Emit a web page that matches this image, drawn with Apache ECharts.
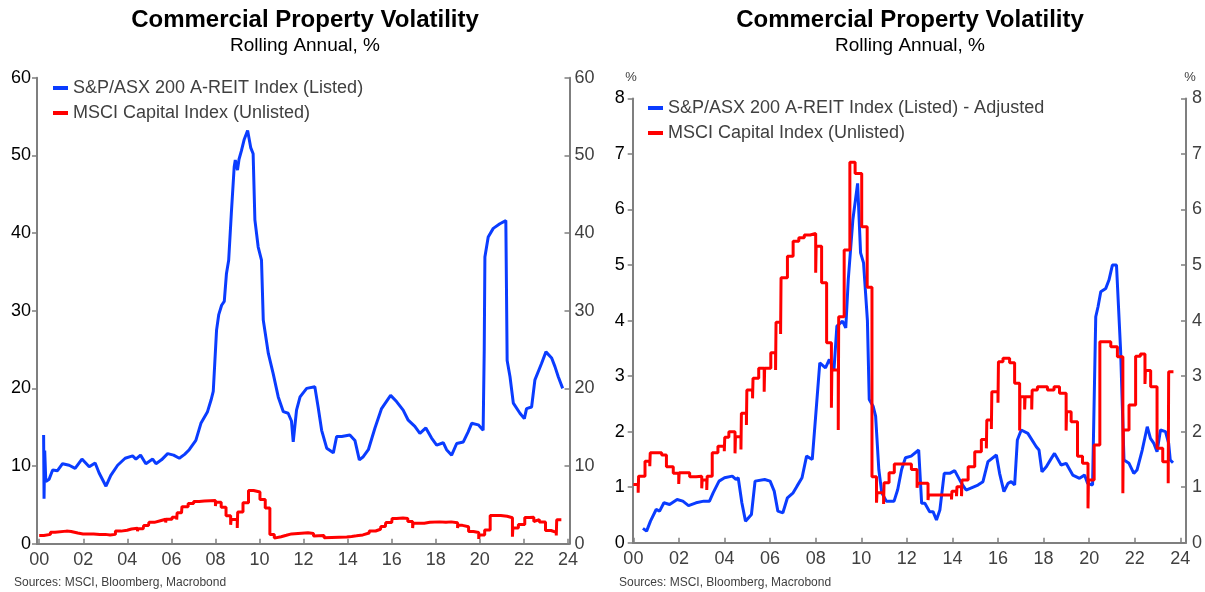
<!DOCTYPE html>
<html><head><meta charset="utf-8">
<script src="https://cdn.jsdelivr.net/npm/echarts@6/dist/echarts.min.js"></script>
<style>html,body{margin:0;padding:0;background:#fff}#c{width:1205px;height:592px}</style>
</head><body><div id="c"></div>
<script>
const chartTitle = 'Commercial Property Volatility';
const chartSubtitle = 'Rolling Annual, %';
const sourceNote = 'Sources: MSCI, Bloomberg, Macrobond';
const listedName = 'S&P/ASX 200 A-REIT Index (Listed)';
const listedAdjName = 'S&P/ASX 200 A-REIT Index (Listed) - Adjusted';
const unlistedName = 'MSCI Capital Index (Unlisted)';
const yearTicks = [2000,2002,2004,2006,2008,2010,2012,2014,2016,2018,2020,2022,2024];

// Left chart: listed volatility, % (rolling annual)
const listedVol = [
[2000.20,14.0],[2000.22,5.8],[2000.25,12.0],[2000.30,8.0],[2000.45,8.3],[2000.61,9.5],[2000.83,9.4],[2001.06,10.3],[2001.36,10.1],[2001.63,9.7],[2001.94,10.9],[2002.27,9.9],[2002.54,10.4],[2002.72,9.1],[2003.03,7.4],[2003.25,8.8],[2003.56,10.1],[2003.90,11.0],[2004.24,11.3],[2004.39,10.9],[2004.60,11.4],[2004.84,10.3],[2005.15,10.9],[2005.30,10.3],[2005.55,10.8],[2005.83,11.6],[2006.10,11.4],[2006.36,11.0],[2006.60,11.5],[2006.81,12.1],[2007.11,13.3],[2007.34,15.5],[2007.64,17.0],[2007.80,18.5],[2007.90,19.6],[2007.97,23.3],[2008.05,27.5],[2008.15,29.5],[2008.28,30.7],[2008.40,31.2],[2008.50,34.8],[2008.60,36.5],[2008.72,42.5],[2008.85,48.5],[2008.90,49.4],[2009.00,48.1],[2009.07,49.5],[2009.18,50.6],[2009.30,52.0],[2009.46,53.2],[2009.60,51.0],[2009.71,50.2],[2009.79,41.7],[2009.94,38.2],[2010.09,36.5],[2010.17,28.8],[2010.40,24.5],[2010.62,21.9],[2010.85,18.9],[2011.08,17.0],[2011.30,16.8],[2011.45,15.8],[2011.53,13.1],[2011.68,17.2],[2011.84,18.9],[2012.14,20.0],[2012.51,20.2],[2012.66,17.6],[2012.82,14.6],[2013.05,12.3],[2013.35,11.7],[2013.50,13.8],[2013.73,13.8],[2014.10,14.0],[2014.33,13.3],[2014.53,10.8],[2014.71,11.2],[2014.94,12.1],[2015.24,14.9],[2015.54,17.4],[2015.95,19.1],[2016.22,18.3],[2016.52,17.2],[2016.75,15.9],[2017.05,15.1],[2017.28,14.2],[2017.55,14.9],[2017.81,13.6],[2018.04,12.7],[2018.34,13.0],[2018.49,12.1],[2018.72,11.4],[2018.95,12.9],[2019.25,13.1],[2019.47,14.4],[2019.63,15.5],[2019.93,15.3],[2020.15,14.6],[2020.20,25.0],[2020.23,36.9],[2020.38,39.5],[2020.61,40.6],[2020.91,41.2],[2021.18,41.6],[2021.24,23.6],[2021.37,21.5],[2021.52,18.1],[2021.82,16.8],[2022.02,16.1],[2022.12,17.4],[2022.35,17.6],[2022.50,21.1],[2022.80,23.2],[2023.00,24.7],[2023.26,23.9],[2023.41,22.8],[2023.56,21.5],[2023.76,20.0]
];

// Right chart: listed volatility adjusted, %
const listedAdjVol = [
[2000.42,0.26],[2000.58,0.21],[2000.75,0.39],[2001.00,0.60],[2001.15,0.57],[2001.34,0.72],[2001.59,0.69],[2001.92,0.78],[2002.17,0.75],[2002.42,0.67],[2002.75,0.72],[2003.09,0.75],[2003.34,0.75],[2003.50,0.90],[2003.76,1.11],[2004.00,1.17],[2004.34,1.20],[2004.50,1.14],[2004.60,1.17],[2004.76,0.72],[2004.92,0.39],[2005.18,0.51],[2005.34,1.11],[2005.76,1.14],[2006.00,1.11],[2006.18,0.93],[2006.34,0.57],[2006.56,0.54],[2006.76,0.81],[2007.01,0.90],[2007.18,1.02],[2007.40,1.17],[2007.60,1.56],[2007.85,1.50],[2008.01,2.34],[2008.18,3.24],[2008.43,3.15],[2008.60,3.30],[2008.80,3.10],[2008.93,3.90],[2009.18,3.99],[2009.32,3.87],[2009.43,4.74],[2009.63,5.81],[2009.84,6.47],[2009.97,5.22],[2010.10,5.04],[2010.27,4.00],[2010.35,2.58],[2010.52,2.46],[2010.63,2.28],[2010.77,1.32],[2010.90,0.90],[2011.10,0.75],[2011.44,0.75],[2011.60,0.96],[2011.77,1.32],[2011.94,1.53],[2012.19,1.56],[2012.52,1.67],[2012.65,0.71],[2012.79,0.71],[2013.00,0.56],[2013.15,0.56],[2013.30,0.41],[2013.45,0.59],[2013.64,1.25],[2013.88,1.25],[2014.10,1.30],[2014.40,1.07],[2014.60,0.95],[2015.12,1.04],[2015.34,1.10],[2015.56,1.46],[2015.93,1.58],[2016.07,1.25],[2016.26,0.92],[2016.44,1.07],[2016.58,1.10],[2016.73,1.04],[2016.85,1.85],[2017.02,2.03],[2017.31,1.97],[2017.68,1.73],[2017.80,1.67],[2017.93,1.28],[2018.12,1.37],[2018.34,1.52],[2018.48,1.61],[2018.77,1.40],[2018.99,1.43],[2019.28,1.22],[2019.58,1.16],[2019.80,1.22],[2019.93,1.07],[2020.15,1.04],[2020.29,4.07],[2020.39,4.25],[2020.51,4.52],[2020.73,4.58],[2020.87,4.73],[2021.02,5.00],[2021.20,5.00],[2021.38,3.47],[2021.53,1.49],[2021.75,1.43],[2021.96,1.25],[2022.10,1.31],[2022.33,1.67],[2022.55,2.09],[2022.69,1.88],[2022.84,1.79],[2022.98,1.64],[2023.13,2.03],[2023.35,2.00],[2023.49,1.79],[2023.56,1.49],[2023.68,1.44]
];

// Both charts: unlisted (MSCI capital index) volatility, % – step series
const unlistedVol = [
[2000.00,1.05],[2000.21,0.90],[2000.23,1.20],[2000.51,1.47],[2000.72,1.38],[2000.74,1.62],[2001.24,1.58],[2001.45,1.37],[2001.75,1.25],[2001.99,1.06],[2002.01,1.26],[2002.47,1.19],[2002.75,1.20],[2003.00,0.98],[2003.02,1.13],[2003.22,0.95],[2003.24,1.20],[2003.46,1.62],[2003.71,1.74],[2003.99,1.65],[2004.01,1.90],[2004.19,2.00],[2004.46,1.61],[2004.48,1.91],[2004.72,1.68],[2004.74,2.33],[2004.96,2.12],[2004.98,2.75],[2005.23,2.60],[2005.25,2.96],[2005.50,3.14],[2005.74,2.72],[2005.76,3.14],[2006.03,3.42],[2006.24,3.11],[2006.26,3.97],[2006.46,3.76],[2006.48,4.77],[2006.76,5.16],[2007.01,5.43],[2007.26,5.49],[2007.50,5.54],[2007.76,5.57],[2008.00,4.86],[2008.02,5.34],[2008.26,4.68],[2008.48,3.60],[2008.69,2.43],[2008.71,3.11],[2008.99,2.03],[2009.01,4.07],[2009.25,5.27],[2009.50,6.85],[2009.73,6.65],[2010.02,5.69],[2010.26,4.60],[2010.47,1.19],[2010.67,0.72],[2010.69,0.90],[2010.98,0.70],[2011.00,1.08],[2011.22,1.26],[2011.45,1.42],[2012.20,1.32],[2012.45,0.99],[2012.47,1.07],[2012.93,0.77],[2012.95,0.86],[2013.96,0.78],[2013.98,0.93],[2014.18,0.84],[2014.20,1.01],[2014.40,0.84],[2014.42,1.13],[2014.69,1.37],[2014.98,1.64],[2015.27,1.86],[2015.49,1.70],[2015.51,2.21],[2015.71,2.05],[2015.73,2.72],[2016.00,2.52],[2016.02,3.26],[2016.22,3.32],[2016.51,3.24],[2016.73,2.87],[2016.95,2.02],[2016.97,2.63],[2017.17,2.40],[2017.19,2.63],[2017.48,2.40],[2017.50,2.75],[2017.73,2.81],[2018.17,2.75],[2018.46,2.81],[2018.70,2.69],[2018.99,2.02],[2019.01,2.36],[2019.21,2.18],[2019.49,1.56],[2019.71,1.43],[2019.95,0.62],[2019.97,1.13],[2020.22,1.76],[2020.47,3.62],[2020.95,3.53],[2021.24,3.35],[2021.48,0.89],[2021.50,2.03],[2021.75,2.48],[2022.04,3.36],[2022.25,3.40],[2022.45,2.86],[2022.47,3.10],[2022.70,2.81],[2022.98,1.70],[2023.23,1.46],[2023.47,1.07],[2023.49,3.08],[2023.70,3.08]
];

const FONT = "'Liberation Sans', Arial, sans-serif";
const BLUE = '#0a3cff';
const RED = '#ff0000';
const AXIS = '#7f7f7f';

function xAxisFor(gridIndex, min, max) {
  return {
    type: 'value', gridIndex, min, max,
    axisLine: {show: true, onZero: false, lineStyle: {color: AXIS, width: 2}},
    axisTick: {show: true, inside: true, length: 5, customValues: yearTicks, lineStyle: {color: AXIS, width: 1.5}},
    axisLabel: {customValues: yearTicks, margin: 7, fontSize: 18, fontFamily: FONT, color: '#404040',
      formatter: v => String(Math.round(v) % 100).padStart(2, '0')},
    splitLine: {show: false}
  };
}
function yAxisFor(gridIndex, position, max, interval, color, inside, margin) {
  return {
    type: 'value', gridIndex, position, min: 0, max, interval,
    axisLine: {show: true, lineStyle: {color: AXIS, width: 2}},
    axisTick: {show: true, inside, length: 5, lineStyle: {color: AXIS, width: 1.5}},
    axisLabel: {margin, fontSize: 18, fontFamily: FONT, color},
    splitLine: {show: false}
  };
}
function txt(x, y, text, font, fill, align) {
  return {type: 'text', x, y, silent: true,
    style: {text, font, fill, textAlign: align || 'center', textVerticalAlign: 'middle'}};
}
const legendBase = {
  orient: 'vertical', padding: 0, itemWidth: 15, itemHeight: 4, itemGap: 7, icon: 'rect',
  textStyle: {fontSize: 18, fontFamily: FONT, color: '#404040', lineHeight: 18}
};

const chart = echarts.init(document.getElementById('c'), null, {renderer: 'canvas'});
chart.setOption({
  animation: false,
  backgroundColor: '#fff',
  graphic: [
    txt(305, 20, chartTitle, "bold 24px " + FONT, '#000'),
    txt(305, 46, chartSubtitle, "19px " + FONT, '#000'),
    txt(910, 20, chartTitle, "bold 24px " + FONT, '#000'),
    txt(910, 46, chartSubtitle, "19px " + FONT, '#000'),
    txt(631, 77, '%', "13px " + FONT, '#404040'),
    txt(1190, 77, '%', "13px " + FONT, '#404040'),
    txt(14, 583, sourceNote, "12px " + FONT, '#404040', 'left'),
    txt(619, 583, sourceNote, "12px " + FONT, '#404040', 'left')
  ],
  legend: [
    Object.assign({}, legendBase, {left: 53, top: 79, data: [listedName, unlistedName]}),
    Object.assign({}, legendBase, {left: 648, top: 99, data: [listedAdjName, unlistedName]})
  ],
  grid: [
    {left: 37, top: 77.7, width: 532.5, height: 466},
    {left: 632.7, top: 98.4, width: 556.3, height: 444.4}
  ],
  xAxis: [xAxisFor(0, 1999.9, 2024.07), xAxisFor(1, 1999.97, 2024.25)],
  yAxis: [
    yAxisFor(0, 'left', 60, 10, '#000', false, 6),
    yAxisFor(0, 'right', 60, 10, '#404040', true, 5),
    yAxisFor(1, 'left', 8, 1, '#000', false, 8),
    yAxisFor(1, 'right', 8, 1, '#404040', true, 6)
  ],
  series: [
    {name: listedName, type: 'line', xAxisIndex: 0, yAxisIndex: 0, data: listedVol, showSymbol: false,
      lineStyle: {color: BLUE, width: 3}, itemStyle: {color: BLUE}, z: 3},
    {name: unlistedName, type: 'line', xAxisIndex: 0, yAxisIndex: 0, data: unlistedVol, step: 'end', showSymbol: false,
      lineStyle: {color: RED, width: 3}, itemStyle: {color: RED}, z: 2},
    {name: listedAdjName, type: 'line', xAxisIndex: 1, yAxisIndex: 2, data: listedAdjVol, showSymbol: false,
      lineStyle: {color: BLUE, width: 3}, itemStyle: {color: BLUE}, z: 2},
    {name: unlistedName, type: 'line', xAxisIndex: 1, yAxisIndex: 2, data: unlistedVol, step: 'end', showSymbol: false,
      lineStyle: {color: RED, width: 3}, itemStyle: {color: RED}, z: 3}
  ]
});
</script></body></html>
